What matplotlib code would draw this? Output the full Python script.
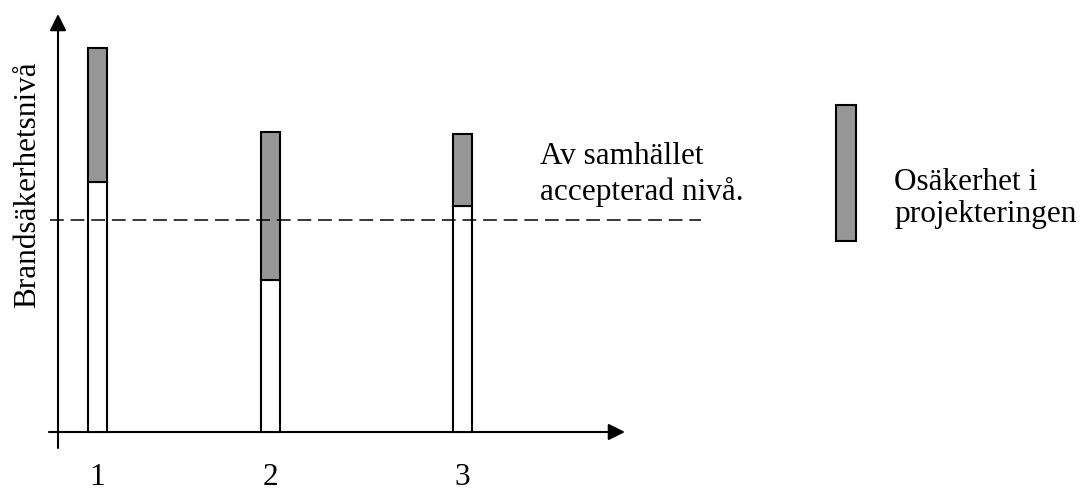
import matplotlib.pyplot as plt

plt.rcParams['font.family'] = ['Liberation Serif', 'DejaVu Serif']

# data
categories = ["1", "2", "3"]
base_level = [6.25, 3.8, 5.65]      # lower (white) part of each bar
upper_level = [9.6, 7.5, 7.45]      # top of the uncertainty (grey) part
accepted_level = 5.3                # accepted by society
ylabel = "Brandsäkerhetsnivå"
accepted_text = ["Av samhället", "accepterad nivå."]
legend_text = ["Osäkerhet i", "projekteringen"]

# layout
pos = [1, 2, 3.11]
bar_w = 0.11
grey = "#969696"
fs = 22.5

fig = plt.figure(figsize=(10.83, 4.91), dpi=100)
ax = fig.add_axes([0, 0, 1, 1])
ax.set_xlim(0.4364, 6.6965)
ax.set_ylim(-1.475, 10.8)
ax.axis("off")

# axes with arrows
arrow = dict(arrowstyle="-|>", mutation_scale=25, color="black", lw=1.5,
             shrinkA=0, shrinkB=0)
ax.annotate("", xy=(0.7717, 10.45), xytext=(0.7717, -0.4), arrowprops=arrow)
ax.annotate("", xy=(4.049, 0), xytext=(0.7197, 0), arrowprops=arrow)

# bars
unc = [u - b for u, b in zip(upper_level, base_level)]
ax.bar(pos, base_level, bar_w, color="white", edgecolor="black", lw=1.5, zorder=3)
ax.bar(pos, unc, bar_w, bottom=base_level, color=grey, edgecolor="black", lw=1.5, zorder=3)

# accepted level (drawn over the bars)
ax.plot([0.725, 4.488], [accepted_level, accepted_level], color="black",
        lw=1.1, dashes=(9, 4.5), zorder=4)
ax.text(3.558, 6.7, accepted_text[0], fontsize=fs, va="baseline")
ax.text(3.558, 5.8, accepted_text[1], fontsize=fs, va="baseline")

# category labels
for p, c in zip(pos, categories):
    ax.text(p, -1.32, c, fontsize=fs, ha="center", va="baseline")

ax.text(0.6387, 6.175, ylabel, fontsize=fs, rotation=90, rotation_mode="anchor",
        ha="center", va="baseline")

# legend
ax.bar([5.3266], [3.4], 0.1156, bottom=[4.775], color=grey, edgecolor="black", lw=1.5)
ax.text(5.604, 6.05, legend_text[0], fontsize=fs, va="baseline")
ax.text(5.604, 5.25, legend_text[1], fontsize=fs, va="baseline")

fig.savefig("out.png", dpi=100)
